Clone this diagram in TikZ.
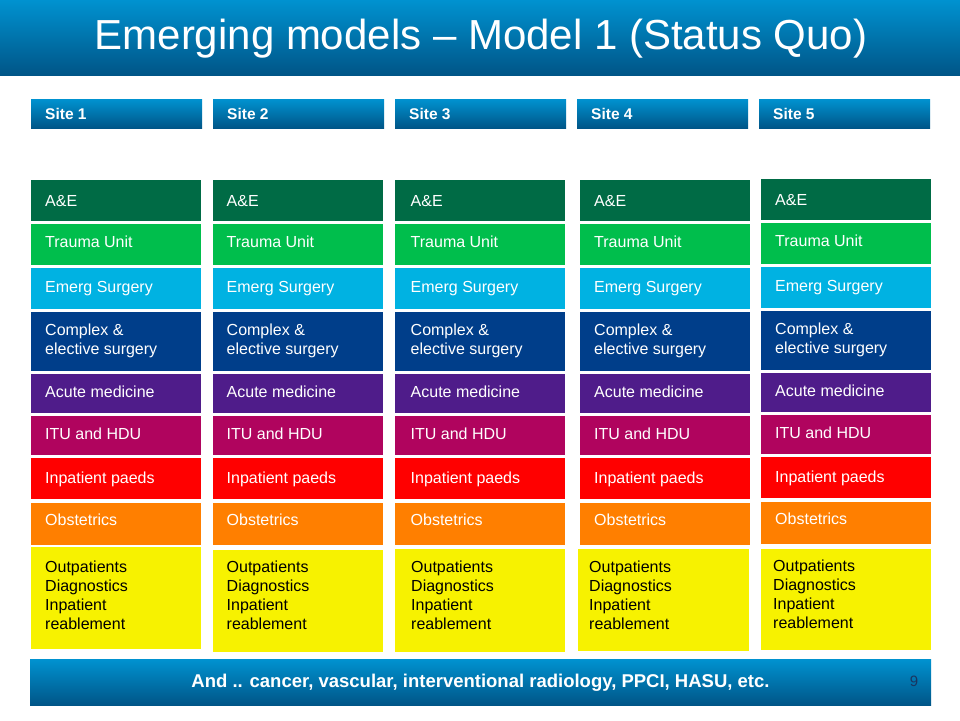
\documentclass[tikz,border=0pt]{standalone}
\usepackage{fontspec}
\setmainfont{Liberation Sans}
\definecolor{ae}{HTML}{006B45}
\definecolor{trauma}{HTML}{00BE4C}
\definecolor{emerg}{HTML}{00B2E2}
\definecolor{complex}{HTML}{003E8A}
\definecolor{acute}{HTML}{4F1C8A}
\definecolor{itu}{HTML}{B0045E}
\definecolor{paeds}{HTML}{FF0000}
\definecolor{obst}{HTML}{FF7F00}
\definecolor{outp}{HTML}{F7F200}
\definecolor{bartop}{HTML}{0092D0}
\definecolor{barbot}{HTML}{005587}
\definecolor{pagenum}{HTML}{1A3560}
\tikzset{
  barbox/.style={top color=bartop, bottom color=barbot, draw=none, inner sep=0pt, anchor=north west},
  cell/.style={draw=none, inner sep=0pt, anchor=north west},
  celltext/.style={text=white, font=\fontsize{16}{19}\selectfont, anchor=base west, inner sep=0pt, align=left},
  yellowtext/.style={text=black, font=\fontsize{16}{19}\selectfont, anchor=base west, inner sep=0pt, align=left},
  sitetext/.style={text=white, font=\bfseries\fontsize{15.5}{18}\selectfont, anchor=base west, inner sep=0pt}
}
\begin{document}
\begin{tikzpicture}[x=1pt,y=-1pt]
\useasboundingbox (0,0) rectangle (960,720);
\fill[white] (0,0) rectangle (960,720);
% title bar
\node[barbox, minimum width=960pt, minimum height=75pt] (titlebar) at (0,0) {};
\node[text=white, font=\fontsize{42}{50}\selectfont, anchor=base, inner sep=0pt] (title) at (481,49.3) {Emerging models – Model 1 (Status Quo)};
% site headers
\foreach \s/\L in {1/31,2/213,3/395,4/577,5/759}{
  \node[barbox, minimum width=171pt, minimum height=29pt] (site\s) at (\L,99) {};
  \node[sitetext] (sitelab\s) at (\L+14,119) {Site \s};
}
% columns
\foreach \c/\L/\tx/\yl/\yw/\yt/\yb/\ytx/\dy in {
  1/31/45/31/170/547/649/45/0,
  2/213/226.5/213/170/550/652/226.5/0,
  3/395/410.5/395/170/549/652/411/0,
  4/580/594/578/171/549/651/589/0,
  5/761/775/761/170/549/650/773/-1}{
  \foreach \r/\t/\b/\col/\tc/\lab in {
    1/180/221/ae/201/{A\&E},
    2/224/265/trauma/241.7/{Trauma Unit},
    3/268/309/emerg/286.7/{Emerg Surgery},
    4/312/371/complex/349/{Complex \&\\elective surgery},
    5/374/413/acute/391.7/{Acute medicine},
    6/416/455/itu/433.3/{ITU and HDU},
    7/458/499/paeds/477.3/{Inpatient paeds},
    8/503/545/obst/520/{Obstetrics}}{
    \pgfmathsetmacro\h{\b-\t}
    \node[cell, fill=\col, minimum width=170pt, minimum height=\h pt] (b\c-\r) at (\L,\t+\dy) {};
    \node[celltext] (t\c-\r) at (\tx,\tc+5.7+\dy) {\lab};
  }
  \pgfmathsetmacro\yh{\yb-\yt}
  \node[cell, fill=outp, minimum width=\yw pt, minimum height=\yh pt] (b\c-9) at (\yl,\yt) {};
  \node[yellowtext] (t\c-9) at (\ytx,629.7+\dy) {Outpatients\\Diagnostics\\Inpatient\\reablement};
}
% bottom bar
\node[barbox, minimum width=901pt, minimum height=46pt] (bottombar) at (30,659) {};
\node[text=white, font=\bfseries\fontsize{18.5}{22}\selectfont, anchor=base, inner sep=0pt] (bottomtext) at (480.5,687.3) {And .. cancer, vascular, interventional radiology, PPCI, HASU, etc.};
\node[text=pagenum, font=\fontsize{15}{18}\selectfont, anchor=base, inner sep=0pt] (pagenumber) at (914,686.5) {9};
\end{tikzpicture}
\end{document}
